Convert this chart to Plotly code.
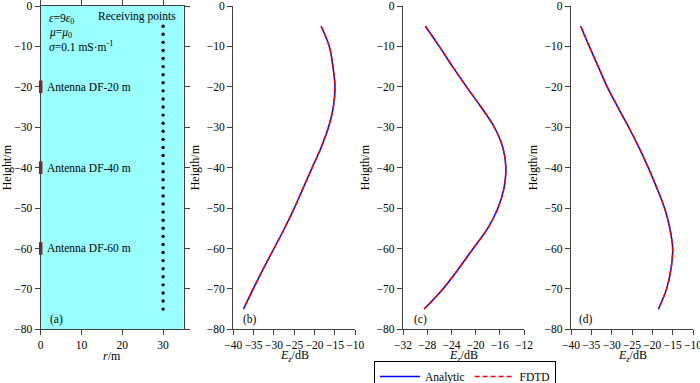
import plotly.graph_objects as go

# ---------------- data ----------------
heights = [-5, -10, -15, -20, -25, -30, -35, -40, -45, -50, -55, -60, -65, -70, -75]
ez_b = [-18.4, -16.4, -15.5, -15.0, -15.4, -16.6, -18.4, -20.6, -22.8, -25.0, -27.4, -30.0, -32.6, -35.1, -37.5]
ez_c = [-28.3, -26.0, -23.8, -21.5, -19.1, -16.9, -15.5, -15.0, -15.3, -16.3, -18.0, -20.4, -22.8, -25.4, -28.5]
ez_d = [-37.6, -35.5, -33.3, -31.1, -28.5, -25.8, -23.3, -21.0, -18.9, -17.0, -15.7, -15.0, -15.4, -16.5, -18.5]

receiver_r = 30
receiver_heights = [-5, -7, -9, -11, -13, -15, -17, -19, -21, -23, -25, -27, -29, -31, -33, -35, -37, -39,
                    -41, -43, -45, -47, -49, -51, -53, -55, -57, -59, -61, -63, -65, -67, -69, -71, -73, -75]
antenna_heights = [-20, -40, -60]
antenna_labels = ["Antenna DF-20 m", "Antenna DF-40 m", "Antenna DF-60 m"]

xticks_b = [-40, -35, -30, -25, -20, -15, -10]
xticks_c = [-32, -28, -24, -20, -16, -12]
xticks_d = [-40, -35, -30, -25, -20, -15, -10]
xticks_a = [0, 10, 20, 30]
yticks = [0, -10, -20, -30, -40, -50, -60, -70, -80]

# ---------------- style ----------------
FONT = "Liberation Serif, Times New Roman, serif"
AX = "#404040"
W, H = 700, 383

def px_x(p):
    return p / W

def px_y(p):
    return 1 - p / H

ydom = [px_y(329.3), px_y(6)]
doms = {
    "a": [px_x(40.7), px_x(183.5)],
    "b": [px_x(233.3), px_x(355.3)],
    "c": [px_x(403), px_x(524)],
    "d": [px_x(571), px_x(693)],
}

fig = go.Figure()

# panel (a) : receiving points and antennas
fig.add_trace(go.Scatter(
    x=[receiver_r] * len(receiver_heights), y=receiver_heights, mode="markers",
    marker=dict(color="black", size=3.4), xaxis="x", yaxis="y", showlegend=False,
    hoverinfo="skip"))
fig.add_trace(go.Scatter(
    x=[0] * len(antenna_heights), y=antenna_heights, mode="markers",
    marker=dict(symbol="line-ns", size=9, line=dict(color="#D00000", width=3.5)),
    xaxis="x", yaxis="y", showlegend=False, cliponaxis=False, hoverinfo="skip"))

# panels (b)-(d)
panels = [("b", ez_b, "x2", "y2"), ("c", ez_c, "x3", "y3"), ("d", ez_d, "x4", "y4")]
for i, (name, ez, xa, ya) in enumerate(panels):
    fig.add_trace(go.Scatter(
        x=ez, y=heights, mode="lines", name="Analytic",
        line=dict(color="#0000FF", width=1.5, shape="spline"),
        xaxis=xa, yaxis=ya, showlegend=(i == 0), legendrank=1))
for i, (name, ez, xa, ya) in enumerate(panels):
    fig.add_trace(go.Scatter(
        x=ez, y=heights, mode="lines", name="FDTD",
        line=dict(color="#FF0000", width=1.5, dash="5px,3px", shape="spline"),
        xaxis=xa, yaxis=ya, showlegend=(i == 0), legendrank=2))

tickfont = dict(family=FONT, size=11.5, color="black")
titlefont = dict(family=FONT, size=12, color="black")

def xaxis(dom, anchor, rng, tickvals, mirror=False):
    return dict(domain=dom, anchor=anchor, range=rng, tickvals=tickvals,
                ticks="outside", ticklen=5, tickcolor=AX, tickwidth=1,
                showline=True, linecolor=AX, linewidth=1.3, mirror=("ticks" if mirror else False),
                showgrid=False, zeroline=False, tickfont=tickfont, ticklabeloverflow="allow",
                automargin=False)

def yaxis(anchor, title, mirror=False):
    return dict(domain=ydom, anchor=anchor, range=[-80, 0], tickvals=yticks,
                ticks="outside", ticklen=5, tickcolor=AX, tickwidth=1,
                showline=True, linecolor=AX, linewidth=1.3, mirror=("ticks" if mirror else False),
                showgrid=False, zeroline=False, tickfont=tickfont, ticklabeloverflow="allow",
                title=dict(text=title, font=titlefont, standoff=4), automargin=False)

ez_title = "<i>E</i><sub><i>z</i></sub>/dB"

fig.update_layout(
    width=W, height=H,
    margin=dict(l=0, r=0, t=0, b=0, autoexpand=False),
    paper_bgcolor="white", plot_bgcolor="white",
    font=dict(family=FONT, size=11.5, color="black"),
    xaxis=xaxis(doms["a"], "y", [0, 35], xticks_a, mirror=True),
    yaxis=yaxis("x", "Height/m", mirror=True),
    xaxis2=xaxis(doms["b"], "y2", [-40, -10], xticks_b),
    yaxis2=yaxis("x2", "Heigth/m"),
    xaxis3=xaxis(doms["c"], "y3", [-32, -12], xticks_c),
    yaxis3=yaxis("x3", "Heigth/m"),
    xaxis4=xaxis(doms["d"], "y4", [-40, -10], xticks_d),
    yaxis4=yaxis("x4", "Heigth/m"),
    legend=dict(orientation="h", xref="container", yref="container",
                x=px_x(465), xanchor="center", y=px_y(361), yanchor="top",
                bordercolor="black", borderwidth=1, bgcolor="white",
                font=dict(family=FONT, size=11.5, color="black"),
                traceorder="normal", itemwidth=40),
    showlegend=True,
)

# cyan medium background for panel (a)
fig.add_shape(type="rect", xref="x domain", yref="y domain", x0=0, x1=1, y0=0, y1=1,
              fillcolor="#99FFFF", line=dict(width=0), layer="below")

def ann(text, x, y, xref, yref, xanchor="left", yanchor="middle", size=11.5):
    fig.add_annotation(text=text, x=x, y=y, xref=xref, yref=yref, showarrow=False,
                       xanchor=xanchor, yanchor=yanchor,
                       font=dict(family=FONT, size=size, color="black"))

# x-axis titles
ann("<i>r</i>/m", 0.5, px_y(355.5), "x domain", "paper", xanchor="center", size=12)
for xa in ["x2", "x3", "x4"]:
    ann(ez_title, 0.5, px_y(355.5), xa + " domain", "paper", xanchor="center", size=12)

ann("<i>ε</i>=9<i>ε</i><sub>0</sub>", 0.045, 0.960, "x domain", "y domain")
ann("<i>μ</i>=<i>μ</i><sub>0</sub>", 0.045, 0.915, "x domain", "y domain")
ann("<i>σ</i>=0.1 mS·m<sup>-1</sup>", 0.045, 0.876, "x domain", "y domain")
ann("Receiving points", 0.964, 0.966, "x domain", "y domain", xanchor="right")
for h, lab in zip(antenna_heights, antenna_labels):
    ann(lab, 0.03, h, "x domain", "y")

ann("(a)", 0.049, 0.029, "x domain", "y domain")
ann("(b)", 0.061, 0.029, "x2 domain", "y2 domain")
ann("(c)", 0.072, 0.029, "x3 domain", "y3 domain")
ann("(d)", 0.052, 0.029, "x4 domain", "y4 domain")

# remove the default 8px page margin so the figure sits at the window's corner
fig.write_html("out.html", config={"displayModeBar": False},
               post_script="document.body.style.margin='0';")
